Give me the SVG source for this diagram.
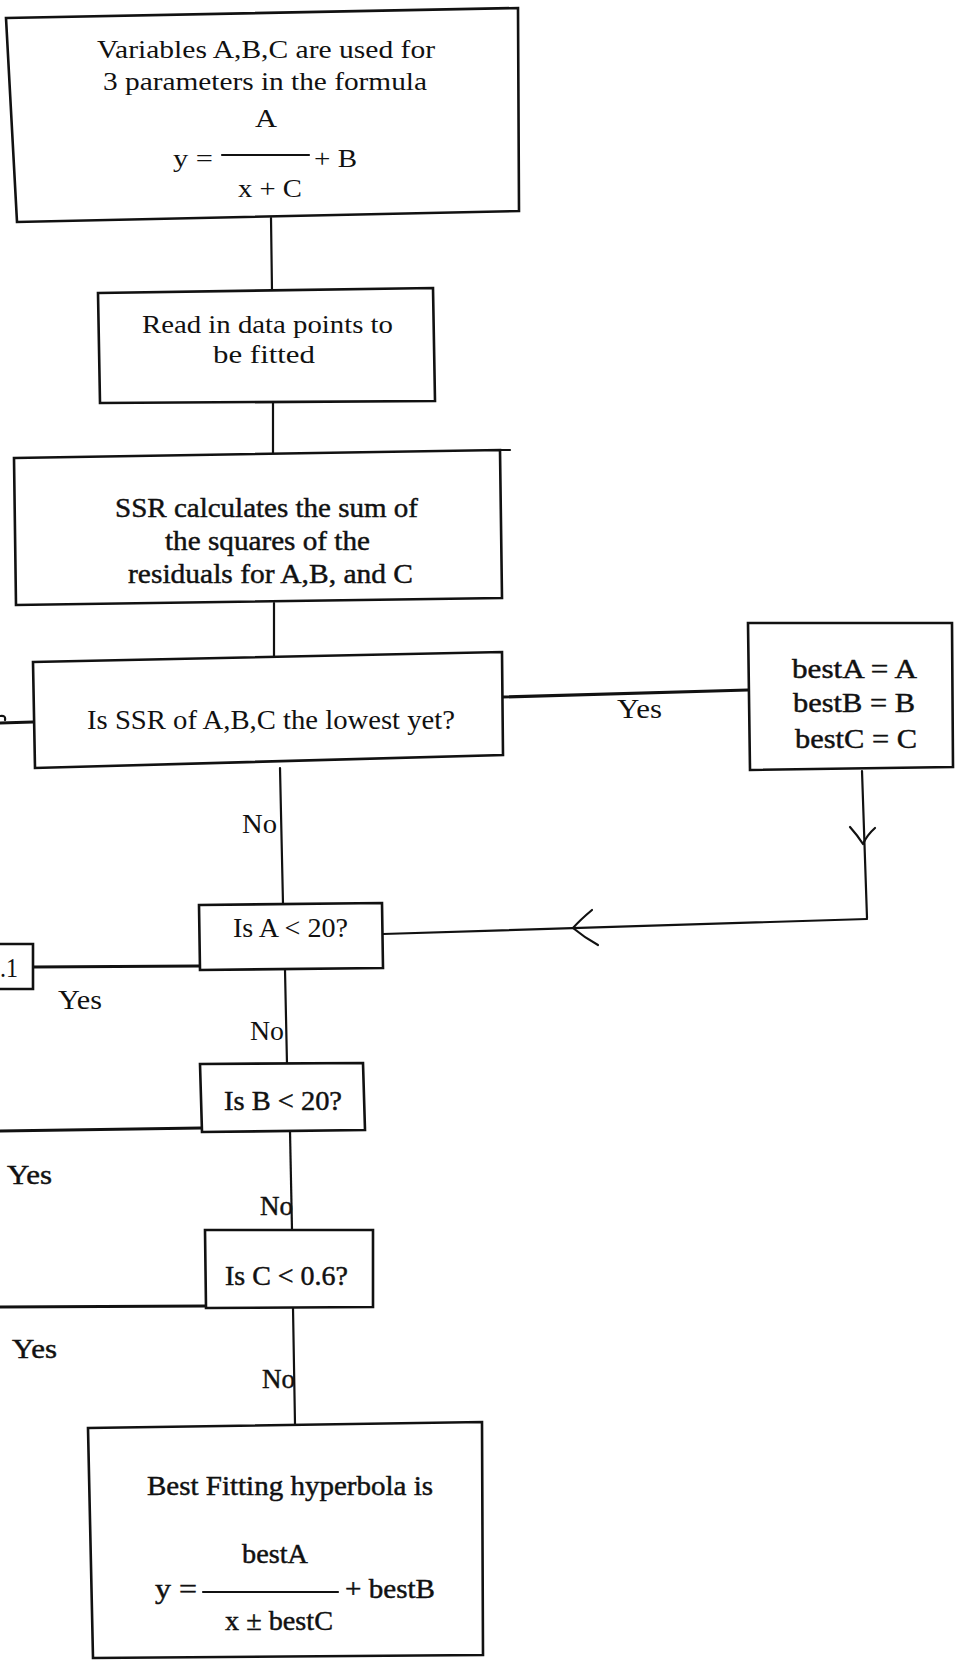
<svg xmlns="http://www.w3.org/2000/svg" width="955" height="1670" viewBox="0 0 955 1670">
<style>
.box{fill:#fff;stroke:#111;stroke-width:2.6;stroke-linejoin:miter}
.ln{fill:none;stroke:#111;stroke-width:2.2;stroke-linecap:round}
.thick{stroke-width:3.2}
.arr{fill:none;stroke:#111;stroke-width:2.2;stroke-linecap:round;stroke-linejoin:round}
text{font-family:"Liberation Serif","Times New Roman",serif;fill:#111}
.h{stroke:#111;stroke-width:0.45}
</style>
<rect x="0" y="0" width="955" height="1670" fill="#fff"/>

<g id="connectors">
  <path class="ln" d="M271,218 L272,291"/>
  <path class="ln" d="M273,402 L273,454"/>
  <path class="ln" d="M274,603 L274,656"/>
  <path class="ln" d="M280,768 L283,904"/>
  <path class="ln" d="M285,970 L287,1064"/>
  <path class="ln" d="M290,1131 L292,1230"/>
  <path class="ln" d="M293,1308 L295,1424"/>
  <path class="ln thick" d="M502,697 L748,690"/>
  <path class="ln" d="M862,771 L867,918"/>
  <path class="arr" d="M850,827 Q858,836 863,844 Q867,835 875,828"/>
  <path class="ln" d="M867,919 L383,934"/>
  <path class="arr" d="M592,910 Q580,920 573,928 Q585,938 598,945"/>
  <path class="ln thick" d="M199,966 L33,967"/>
  <path class="ln thick" d="M201,1128 L0,1131"/>
  <path class="ln thick" d="M206,1306 L0,1307"/>
  <path class="ln thick" d="M33,722 L0,723"/>
  <path class="arr" d="M0,716 Q6,715 5,720"/>
  <text x="617" y="718" font-size="27" textLength="45" lengthAdjust="spacingAndGlyphs">Yes</text>
  <text x="242" y="833" font-size="27" textLength="35" lengthAdjust="spacingAndGlyphs">No</text>
  <text x="58" y="1009" font-size="27" textLength="44" lengthAdjust="spacingAndGlyphs">Yes</text>
  <text x="250" y="1040" font-size="27" textLength="34" lengthAdjust="spacingAndGlyphs">No</text>
  <text class="h" x="7" y="1184" font-size="27" textLength="45" lengthAdjust="spacingAndGlyphs">Yes</text>
  <text class="h" x="260" y="1215" font-size="27" textLength="33" lengthAdjust="spacingAndGlyphs">No</text>
  <text class="h" x="12" y="1358" font-size="27" textLength="45" lengthAdjust="spacingAndGlyphs">Yes</text>
  <text class="h" x="262" y="1388" font-size="27" textLength="33" lengthAdjust="spacingAndGlyphs">No</text>
</g>

<g id="node-formula">
  <polygon class="box" points="6,18 518,8 519,211 17,222"/>
  <text x="97" y="58" font-size="25" textLength="338" lengthAdjust="spacingAndGlyphs">Variables A,B,C are used for</text>
  <text x="103" y="90" font-size="25" textLength="324" lengthAdjust="spacingAndGlyphs">3 parameters in the formula</text>
  <text x="255" y="127" font-size="25" textLength="22" lengthAdjust="spacingAndGlyphs">A</text>
  <text x="173" y="167" font-size="25" textLength="40" lengthAdjust="spacingAndGlyphs">y =</text>
  <path class="ln" d="M222,155 L309,155" stroke-width="1.8"/>
  <text x="314" y="167" font-size="25" textLength="43" lengthAdjust="spacingAndGlyphs">+ B</text>
  <text x="238" y="197" font-size="25" textLength="64" lengthAdjust="spacingAndGlyphs">x + C</text>
</g>

<g id="node-read">
  <polygon class="box" points="98,293 433,288 435,401 100,403"/>
  <text x="142" y="333" font-size="25" textLength="251" lengthAdjust="spacingAndGlyphs">Read in data points to</text>
  <text x="213" y="363" font-size="25" textLength="102" lengthAdjust="spacingAndGlyphs">be fitted</text>
</g>

<g id="node-ssr">
  <polygon class="box" points="14,458 500,450 502,598 16,605"/>
  <path class="ln" d="M500,450 L510,450"/>
  <text class="h" x="115" y="517" font-size="28" textLength="303" lengthAdjust="spacingAndGlyphs">SSR calculates the sum of</text>
  <text class="h" x="165" y="550" font-size="28" textLength="205" lengthAdjust="spacingAndGlyphs">the squares of the</text>
  <text class="h" x="128" y="583" font-size="28" textLength="285" lengthAdjust="spacingAndGlyphs">residuals for A,B, and C</text>
</g>

<g id="node-lowest">
  <polygon class="box" points="33,662 502,652 503,755 35,768"/>
  <text x="87" y="729" font-size="28" textLength="368" lengthAdjust="spacingAndGlyphs">Is SSR of A,B,C the lowest yet?</text>
</g>

<g id="node-best">
  <polygon class="box" points="748,623 952,623 953,767 750,770"/>
  <text class="h" x="792" y="678" font-size="28" textLength="125" lengthAdjust="spacingAndGlyphs">bestA = A</text>
  <text class="h" x="793" y="712" font-size="28" textLength="122" lengthAdjust="spacingAndGlyphs">bestB = B</text>
  <text class="h" x="795" y="748" font-size="28" textLength="122" lengthAdjust="spacingAndGlyphs">bestC = C</text>
</g>

<g id="node-a">
  <polygon class="box" points="199,905 382,903 383,968 200,970"/>
  <text x="233" y="937" font-size="27" textLength="115" lengthAdjust="spacingAndGlyphs">Is A &lt; 20?</text>
</g>

<g id="node-a-inc">
  <path class="box" d="M-4,944 L33,944 L33,989 L-4,989 Z"/>
  <text x="0" y="977" font-size="27" textLength="18" lengthAdjust="spacingAndGlyphs">.1</text>
</g>

<g id="node-b">
  <polygon class="box" points="200,1064 363,1063 365,1130 202,1132"/>
  <text class="h" x="224" y="1110" font-size="27" textLength="118" lengthAdjust="spacingAndGlyphs">Is B &lt; 20?</text>
</g>

<g id="node-c">
  <polygon class="box" points="205,1230 373,1230 373,1307 206,1308"/>
  <text class="h" x="225" y="1285" font-size="27" textLength="123" lengthAdjust="spacingAndGlyphs">Is C &lt; 0.6?</text>
</g>

<g id="node-result">
  <polygon class="box" points="88,1428 482,1422 483,1655 93,1658"/>
  <text class="h" x="147" y="1495" font-size="27" textLength="286" lengthAdjust="spacingAndGlyphs">Best Fitting hyperbola is</text>
  <text class="h" x="242" y="1563" font-size="27" textLength="66" lengthAdjust="spacingAndGlyphs">bestA</text>
  <text class="h" x="155" y="1598" font-size="27" textLength="42" lengthAdjust="spacingAndGlyphs">y =</text>
  <path class="ln" d="M203,1592 L338,1592" stroke-width="2.4"/>
  <text class="h" x="345" y="1598" font-size="27" textLength="90" lengthAdjust="spacingAndGlyphs">+ bestB</text>
  <text class="h" x="225" y="1630" font-size="27" textLength="108" lengthAdjust="spacingAndGlyphs">x ± bestC</text>
</g>
</svg>
